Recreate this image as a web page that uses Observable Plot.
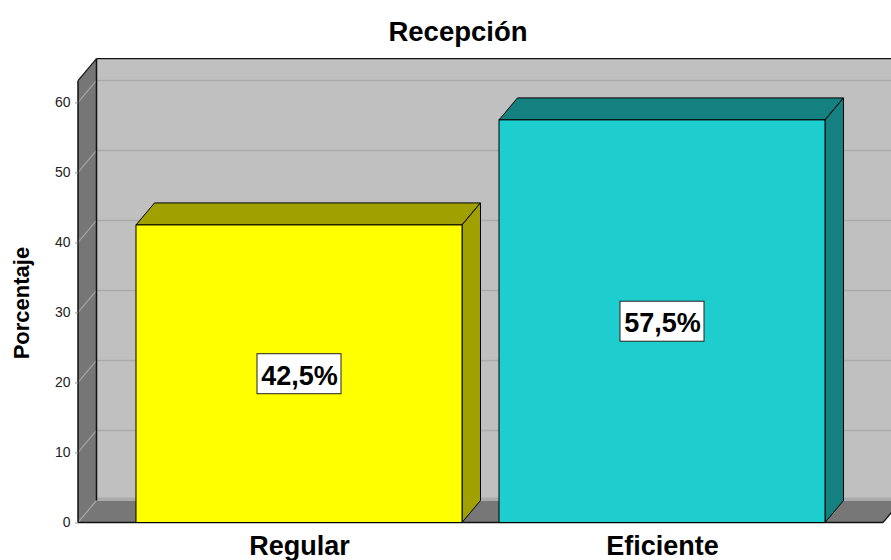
<!DOCTYPE html>
<html>
<head>
<meta charset="utf-8">
<script src="https://cdn.jsdelivr.net/npm/d3@7"></script>
<script src="https://cdn.jsdelivr.net/npm/@observablehq/plot@0.6"></script>
<style>
  body { margin: 0; background: #fff; }
  svg { display: block; }
</style>
</head>
<body>
<div id="chart"></div>
<script>
// ---- data ----
const categories = ["Regular", "Eficiente"];
const percentages = [42.5, 57.5];
const valueLabels = ["42,5%", "57,5%"];
const yTicks = [0, 10, 20, 30, 40, 50, 60];
const yMax = 63.1;
const titleText = "Recepción";
const yLabel = "Porcentaje";

const data = categories.map((c, i) => ({category: c, value: percentages[i], label: valueLabels[i]}));

// ---- style constants ----
const DX = 18.5, DY = -22;           // 3D depth offset (pixels)
const FRONT_COLORS = ["#ffff00", "#1ecece"];
const SIDE_COLORS = {Regular: "#a0a000", Eficiente: "#158080"};
const FONT = "'Liberation Sans', Arial, sans-serif";

function poly(g, pts, fill, stroke) {
  g.append("path")
    .attr("d", "M" + pts.map(p => p.join(",")).join("L") + "Z")
    .attr("fill", fill)
    .attr("stroke", stroke || "none")
    .attr("stroke-width", 1)
    .attr("stroke-linejoin", "miter");
}
function seg(g, a, b, stroke, w) {
  g.append("line")
    .attr("x1", a[0]).attr("y1", a[1]).attr("x2", b[0]).attr("y2", b[1])
    .attr("stroke", stroke).attr("stroke-width", w || 1);
}
function bw(x) { return typeof x.bandwidth === "function" ? x.bandwidth() : x.bandwidth; }

// walls, floor and gridlines
function walls(index, scales, values, dims) {
  const {y} = scales;
  const g = d3.create("svg:g");
  const x0 = dims.marginLeft, x1 = dims.width - dims.marginRight;
  const yb = y(0), yt = y(yMax);
  poly(g, [[x0 + DX, yt + DY], [x1 + DX, yt + DY], [x1 + DX, yb + DY], [x0 + DX, yb + DY]], "#c0c0c0");
  poly(g, [[x0, yb], [x0 + DX, yb + DY], [x1 + DX, yb + DY], [x1, yb]], "#777777");
  for (const v of yTicks) {
    const yy = y(v) + DY - (v === 0 ? 1.5 : 0);
    seg(g, [x0 + DX, yy], [x1 + DX, yy], "#aaaaaa", v === 0 ? 3 : 1.5);
  }
  poly(g, [[x0, yt], [x0 + DX, yt + DY], [x0 + DX, yb + DY], [x0, yb]], "#767676");
  for (const v of yTicks) {
    seg(g, [x0, y(v)], [x0 + DX, y(v) + DY], "#a4a4a4", 1.2);
  }
  seg(g, [x0 + DX, yt + DY], [x1 + DX, yt + DY], "#111", 1.2);
  seg(g, [x0 + DX, yt + DY], [x0 + DX, yb + DY], "#111", 1.5);
  seg(g, [x0, yt], [x0 + DX, yt + DY], "#111", 1.2);
  seg(g, [x0, yt], [x0, yb], "#111", 1.5);
  seg(g, [x0, yb], [x1, yb], "#111", 1.5);
  seg(g, [x1, yb], [x1 + DX, yb + DY], "#111", 1.2);
  return g.node();
}

// top and right faces of each bar
function barFaces(index, scales) {
  const {x, y} = scales;
  const g = d3.create("svg:g");
  const w = bw(x), yb = y(0);
  for (const d of data) {
    const bx0 = x(d.category), bx1 = bx0 + w, by = y(d.value);
    const c = SIDE_COLORS[d.category];
    poly(g, [[bx0, by], [bx0 + DX, by + DY], [bx1 + DX, by + DY], [bx1, by]], c, "#000");
    poly(g, [[bx1, by], [bx1 + DX, by + DY], [bx1 + DX, yb + DY], [bx1, yb]], c, "#000");
  }
  return g.node();
}

// white boxes behind the value labels
function labelBoxes(index, scales) {
  const {x, y} = scales;
  const g = d3.create("svg:g");
  const w = bw(x);
  for (const d of data) {
    const cx = x(d.category) + w / 2, cy = y(d.value / 2);
    g.append("rect")
      .attr("x", cx - 42).attr("y", cy - 20)
      .attr("width", 84).attr("height", 40)
      .attr("fill", "#fff").attr("stroke", "#222").attr("stroke-width", 1);
  }
  return g.node();
}

const chart = Plot.plot({
  width: 891,
  height: 560,
  marginLeft: 78,
  marginRight: 8,
  marginTop: 80.7,
  marginBottom: 37.5,
  style: {fontFamily: FONT, background: "#fff"},
  x: {domain: categories, paddingInner: 0.1016, paddingOuter: 0.1566, axis: null},
  y: {domain: [0, yMax], axis: null},
  color: {domain: categories, range: FRONT_COLORS},
  marks: [
    walls,
    barFaces,
    Plot.barY(data, {x: "category", y: "value", fill: "category", stroke: "#000", strokeWidth: 1}),
    labelBoxes,
    Plot.text(data, {x: "category", y: d => d.value / 2, text: "label", fontSize: 27, fontWeight: "bold", fill: "#000", dy: 2}),
    Plot.axisY({ticks: yTicks, tickSize: 3, tickPadding: 5, fontSize: 14, fill: "#222", stroke: "#999", label: null}),
    Plot.axisX({tickSize: 0, tickPadding: 13, fontSize: 27, fontWeight: "bold", fill: "#000", label: null}),
    Plot.text([titleText], {text: d => d, frameAnchor: "top", lineAnchor: "middle", textAnchor: "middle", dx: -23, dy: -49, fontSize: 27.5, fontWeight: "bold", fill: "#000"}),
    Plot.text([yLabel], {text: d => d, frameAnchor: "left", lineAnchor: "middle", textAnchor: "middle", dx: -57, dy: 1, rotate: -90, fontSize: 22, fontWeight: "bold", fill: "#000"})
  ]
});

document.getElementById("chart").appendChild(chart);
</script>
</body>
</html>
